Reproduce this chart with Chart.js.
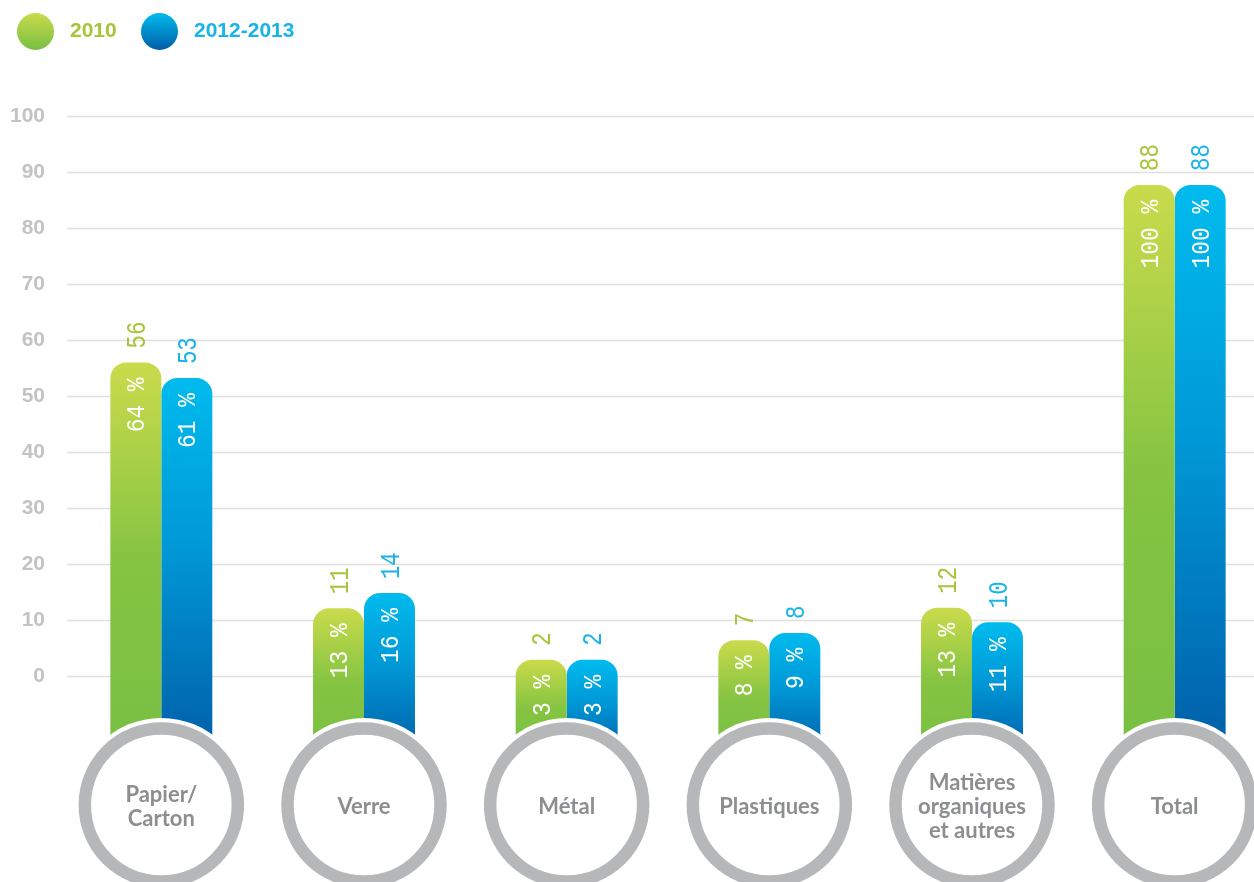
<!DOCTYPE html>
<html><head><meta charset="utf-8">
<script src="https://cdn.jsdelivr.net/npm/chart.js@4.4.0/dist/chart.umd.min.js"></script>
<style>
html,body{margin:0;padding:0;background:#fff;overflow:hidden;width:1254px;height:882px}
#wrap{position:absolute;left:0;top:0;width:1276px;height:882px}
</style></head>
<body><div id="wrap"><canvas id="c" width="1276" height="882"></canvas></div>
<script>
// ---- data ----
const categories = [['Papier/','Carton'],['Verre'],['Métal'],['Plastiques'],['Matières','organiques','et autres'],['Total']];
const seriesNames = ['2010','2012-2013'];
const heights2010 = [56, 12.1, 2.9, 6.4, 12.2, 87.7];
const heights2013 = [53.2, 14.8, 2.9, 7.7, 9.6, 87.7];
const values2010 = ['56','11','2','7','12','88'];
const values2013 = ['53','14','2','8','10','88'];
const pct2010 = ['64 %','13 %','3 %','8 %','13 %','100 %'];
const pct2013 = ['61 %','16 %','3 %','9 %','11 %','100 %'];
const yTicksMin = -20, yTicksMax = 100, yStep = 10;
const BAR_BASE = -14;

// ---- styles ----
const greenStops = [[0,'#cadb4c'],[0.5,'#86c442'],[1,'#78bf43']];
const blueStops = [[0,'#00bbee'],[0.45,'#0098d6'],[1,'#005ea8']];
const greenText = '#a6c53a', blueText = '#18b4e9';

function barGradient(stops){
  return (ctx) => {
    const chart = ctx.chart;
    if (!chart.chartArea || ctx.type !== 'data') return stops[1][1];
    const y = chart.scales.y;
    const top = y.getPixelForValue(ctx.raw);
    const bottom = y.getPixelForValue(BAR_BASE);
    const g = chart.ctx.createLinearGradient(0, top, 0, bottom);
    stops.forEach(s => g.addColorStop(s[0], s[1]));
    return g;
  };
}

function rotText(ctx, text, x, y, align, color, size, squeeze){
  ctx.save();
  ctx.translate(x, y);
  ctx.rotate(-Math.PI/2);
  ctx.scale(squeeze, 1);
  ctx.font = size + 'px "Liberation Mono"';
  ctx.fillStyle = color;
  ctx.textAlign = align;
  ctx.textBaseline = 'alphabetic';
  ctx.fillText(text, 0, size*0.66/2);
  ctx.restore();
}

const decor = {
  id: 'decor',
  beforeDatasetsDraw(chart){
    const ctx = chart.ctx, y = chart.scales.y;
    ctx.save();
    ctx.strokeStyle = '#e0e0e0';
    ctx.lineWidth = 1.5;
    y.ticks.forEach(t => {
      if (t.value < 0) return;
      const py = Math.round(y.getPixelForValue(t.value)) + 0.5;
      ctx.beginPath(); ctx.moveTo(67, py); ctx.lineTo(chart.width, py); ctx.stroke();
    });
    ctx.restore();
  },
  afterDatasetsDraw(chart){
    const ctx = chart.ctx, x = chart.scales.x, y = chart.scales.y;
    const sets = [
      {vals: values2010, pct: pct2010, col: greenText},
      {vals: values2013, pct: pct2013, col: blueText}
    ];
    sets.forEach((s, di) => {
      const meta = chart.getDatasetMeta(di);
      meta.data.forEach((bar, i) => {
        const top = bar.y;
        rotText(ctx, s.vals[i], bar.x, top - 14, 'left', s.col, 28, 0.8);
        rotText(ctx, s.pct[i], bar.x, top + 15, 'right', '#ffffff', 26, 0.88);
      });
    });
    // category circles
    const cy = 805;
    categories.forEach((lines, i) => {
      const cx = x.getPixelForValue(i);
      ctx.save();
      ctx.fillStyle = '#ffffff';
      ctx.beginPath(); ctx.arc(cx, cy, 87, 0, Math.PI*2); ctx.fill();
      ctx.strokeStyle = '#b6b7b9';
      ctx.lineWidth = 12.5;
      ctx.beginPath(); ctx.arc(cx, cy, 76.5, 0, Math.PI*2); ctx.stroke();
      ctx.fillStyle = '#8c8e90';
      ctx.font = 'bold 22px Lato';
      ctx.textAlign = 'center';
      ctx.textBaseline = 'middle';
      const lh = 24;
      const start = cy + 2 - (lines.length - 1) * lh / 2;
      lines.forEach((l, k) => ctx.fillText(l, cx, start + k*lh));
      ctx.restore();
    });
    // legend
    const items = [
      {cx: 35.5, tx: 70, stops: greenStops, col: greenText, name: seriesNames[0]},
      {cx: 159.5, tx: 194, stops: blueStops, col: blueText, name: seriesNames[1]}
    ];
    items.forEach(it => {
      const cyL = 31.5, r = 18.5;
      const g = ctx.createLinearGradient(0, cyL - r, 0, cyL + r);
      g.addColorStop(0, it.stops[0][1]); g.addColorStop(1, it.stops[2][1]);
      ctx.save();
      ctx.fillStyle = g;
      ctx.beginPath(); ctx.arc(it.cx, cyL, r, 0, Math.PI*2); ctx.fill();
      ctx.fillStyle = it.col;
      ctx.font = 'bold 21px "Liberation Sans"';
      ctx.textAlign = 'left';
      ctx.textBaseline = 'middle';
      ctx.fillText(it.name, it.tx, cyL);
      ctx.restore();
    });
  }
};

new Chart(document.getElementById('c'), {
  type: 'bar',
  data: {
    labels: categories.map(c => c.join(' ')),
    datasets: [
      {label: seriesNames[0], data: heights2010, base: BAR_BASE, backgroundColor: barGradient(greenStops),
       borderRadius: 16, borderSkipped: 'bottom', categoryPercentage: 0.503, barPercentage: 1},
      {label: seriesNames[1], data: heights2013, base: BAR_BASE, backgroundColor: barGradient(blueStops),
       borderRadius: 16, borderSkipped: 'bottom', categoryPercentage: 0.503, barPercentage: 1}
    ]
  },
  options: {
    responsive: false,
    animation: false,
    devicePixelRatio: 1,
    layout: {padding: {top: 116, bottom: 94, left: 0, right: 0}},
    plugins: {legend: {display: false}, tooltip: {enabled: false}},
    scales: {
      x: {display: false},
      y: {
        min: yTicksMin, max: yTicksMax,
        ticks: {stepSize: yStep, padding: 7, color: '#c3c3c3',
          font: {family: 'Liberation Sans', weight: 'bold', size: 21},
          callback: v => v < 0 ? '' : v},
        grid: {display: false},
        border: {display: false},
        afterFit: s => { s.width = 60; }
      }
    }
  },
  plugins: [decor]
});
</script>
</body></html>
